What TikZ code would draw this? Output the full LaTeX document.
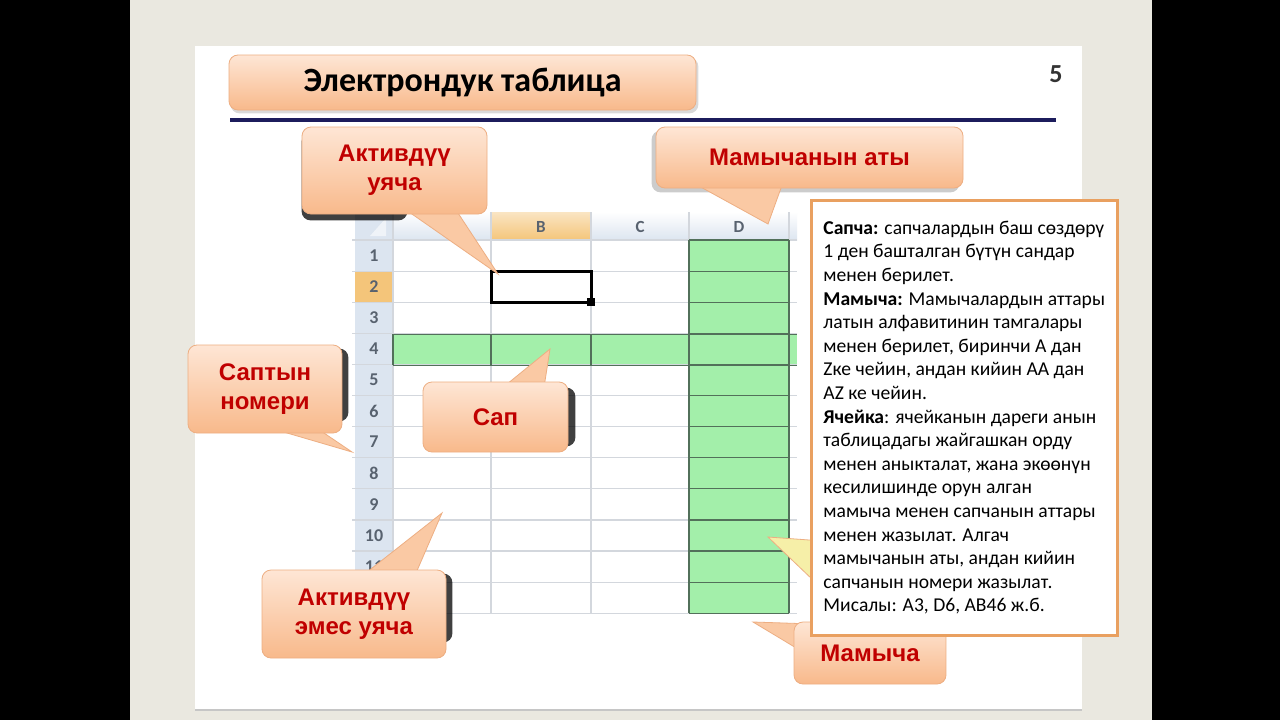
\documentclass[tikz,border=0pt]{standalone}
\usepackage{fontspec}
\setmainfont{Carlito}
\newfontfamily\lblfont{Liberation Sans}
\usetikzlibrary{calc, positioning}
\definecolor{slidegray}{HTML}{EAE8E0}
\definecolor{lblred}{HTML}{C00000}
\definecolor{peachtop}{HTML}{FEE6D5}
\definecolor{peachbot}{HTML}{F8B98B}
\definecolor{peachmid}{HTML}{FAC9A4}
\definecolor{peachline}{HTML}{EDAE82}
\definecolor{navyline}{HTML}{1C1C5C}
\definecolor{cellgreen}{HTML}{A3EFAA}
\definecolor{greenline}{HTML}{52705A}
\definecolor{gridgray}{HTML}{D3D7DD}
\definecolor{hdrblue}{HTML}{DCE5F0}
\definecolor{hdrorange}{HTML}{F4C57A}
\definecolor{hdrtext}{HTML}{58626F}
\definecolor{boxorange}{HTML}{E9A060}
\definecolor{tipyellow}{HTML}{F6EFA8}
\pgfdeclarelayer{back}
\pgfdeclarelayer{shd}
\pgfdeclarelayer{ptr}
\pgfsetlayers{back,shd,ptr,main}

\begin{document}
\begin{tikzpicture}[x=1pt, y=-1pt,
  callout/.style={rounded corners=9pt, top color=peachtop, bottom color=peachbot, draw=peachline,
    line width=0.8pt, align=center, text=lblred, font=\lblfont\bfseries\fontsize{24}{29}\selectfont},
  pointer/.style={fill=peachmid, draw=peachline, line width=0.8pt},
  darkshadow/.style={fill=black, opacity=0.75, rounded corners=9pt},
  rowlbl/.style={text=hdrtext, font=\bfseries\fontsize{18}{20}\selectfont},
  collbl/.style={text=hdrtext, font=\bfseries\fontsize{17}{20}\selectfont},
  infobox/.style={draw=boxorange, line width=2.5pt, fill=white, align=left, inner xsep=10pt,
    font=\fontsize{19.6}{23.6}\selectfont}]
\useasboundingbox (0,0) rectangle (1280,720);

\begin{pgfonlayer}{back}
% slide
\fill[black] (0,0) rectangle (1280,720);
\fill[slidegray] (130,0) rectangle (1152,720);
\fill[white] (195,46) rectangle (1082,710);
\draw[gray!45, line width=2pt] (195,710) -- (1082,710);
\draw[navyline, line width=4pt] (230,120) -- (1056,120);
% sheet headers
\shade[top color=white, bottom color=hdrblue] (393,212) rectangle (797,240);
\shade[top color=hdrorange!45, bottom color=hdrorange] (491,212) rectangle (591,240);
\fill[hdrblue] (355,212) rectangle (393,613.2);
\fill[white!55!hdrblue] (386,218) -- (386,236) -- (370,236) -- cycle;
\fill[hdrorange] (355,271.1) rectangle (393,302.2);
% green cells
\fill[cellgreen] (689,240) rectangle (789,613.2);
\fill[cellgreen] (393,334.3) rectangle (797,365.4);
% grid
\foreach \k in {0,...,12}
  \draw[gridgray, line width=1.2pt] (352,{240+31.1*\k}) -- (797,{240+31.1*\k});
\foreach \x in {393,491,591,689,789}
  \draw[gridgray, line width=1.2pt] (\x,212) -- (\x,613.2);
\foreach \k in {0,...,12}
  \draw[greenline, line width=1.2pt] (689,{240+31.1*\k}) -- (789,{240+31.1*\k});
\draw[greenline, line width=1.2pt] (689,240) -- (689,613.2) (789,240) -- (789,613.2);
\draw[greenline, line width=1.2pt] (393,334.3) -- (797,334.3) (393,365.4) -- (797,365.4);
\foreach \x in {393,491,591}
  \draw[greenline, line width=1.2pt] (\x,334.3) -- (\x,365.4);
% labels
\foreach \k in {1,...,11}
  \node[rowlbl] (r\k) at (374,{240+31.1*(\k-0.5)}) {\k};
\node[collbl] (hB) at (541,227) {B};
\node[collbl] (hC) at (640,227) {C};
\node[collbl] (hD) at (739,227) {D};
% active cell
\draw[line width=3pt] (491,271.1) rectangle (591,302.2);
\fill (587,298.2) rectangle (595,306.2);
\end{pgfonlayer}

% title
\node[callout, text=black, font=\bfseries\fontsize{34}{38}\selectfont, minimum width=467pt,
  minimum height=55pt] (title) at (462.5,82.5) {Электрондук таблица};
\node[font=\bfseries\fontsize{26}{28}\selectfont, text=black!80] (pnum) at (1056,74) {5};

% callouts
\node[callout, minimum width=185pt, minimum height=87pt] (act) at (394.5,170.5) {Активдүү\\уяча};
\node[callout, minimum width=307pt, minimum height=61pt] (name) at (809.5,157.5) {Мамычанын аты};
\node[callout, minimum width=154pt, minimum height=88pt] (row) at (265,389) {Саптын\\номери};
\node[callout, minimum width=145pt, minimum height=70pt] (sap) at (495.5,417) {Сап};
\node[callout, minimum width=184pt, minimum height=88pt] (inact) at (354,614) {Активдүү\\эмес уяча};
\node[callout, minimum width=152pt, minimum height=62pt] (col) at (870,653) {Мамыча};

\coordinate (tact) at (498,274);
\coordinate (tname) at (768,224);
\coordinate (trow) at (352,452);
\coordinate (tsap) at (550,349);
\coordinate (tinact) at (442,513);
\coordinate (tcol) at (753,622);
\coordinate (tcell) at (768,537);

\begin{pgfonlayer}{shd}
\fill[darkshadow] ($(act.north west)+(0,6)$) rectangle ($(act.south east)+(-80,6)$);
\fill[darkshadow, opacity=0.2] ($(name.north west)+(-4,4)$) rectangle ($(name.south east)+(-4,4)$);
\fill[darkshadow] ($(row.north west)+(6,4)$) rectangle ($(row.south east)+(6,-12)$);
\fill[darkshadow] ($(sap.north west)+(7,6)$) rectangle ($(sap.south east)+(7,-6)$);
\fill[darkshadow] ($(inact.north west)+(6,4)$) rectangle ($(inact.south east)+(6,-16)$);
\fill[darkshadow, opacity=0.15] ($(title.north west)+(2,3)$) rectangle ($(title.south east)+(2,3)$);
\end{pgfonlayer}

\begin{pgfonlayer}{ptr}
\filldraw[pointer] ($(act.south west)+(108,-2)$) -- (tact) -- ($(act.south west)+(156,-2)$) -- cycle;
\filldraw[pointer] ($(name.south west)+(44,-2)$) -- (tname) -- ($(name.south west)+(126,-2)$) -- cycle;
\filldraw[pointer] ($(row.south west)+(94,-2)$) -- (trow) -- ($(row.south west)+(134,-2)$) -- cycle;
\filldraw[pointer] ($(sap.north west)+(85,2)$) -- (tsap) -- ($(sap.north west)+(122,2)$) -- cycle;
\filldraw[pointer] ($(inact.north west)+(106,2)$) -- (tinact) -- ($(inact.north west)+(155,2)$) -- cycle;
\filldraw[pointer] ($(col.north west)+(8,2)$) -- (tcol) -- ($(col.north west)+(2,26)$) -- cycle;
\filldraw[pointer, fill=tipyellow] ($(col.north west)+(106,-75)$) -- (tcell)
  -- ($(col.north west)+(66,3)$) -- cycle;
\end{pgfonlayer}

% explanation box
\node[infobox, anchor=north west, minimum width=306pt, minimum height=435pt] (info) at (810,199) {%
\textbf{Сапча:} сапчалардын баш сөздөрү\\
1 ден башталган бүтүн сандар\\
менен берилет.\\
\textbf{Мамыча:} Мамычалардын аттары\\
латын алфавитинин тамгалары\\
менен берилет, биринчи A дан\\
Zке чейин, андан кийин AA дан\\
AZ ке чейин.\\
\textbf{Ячейка}: ячейканын дареги анын\\
таблицадагы жайгашкан орду\\
менен аныкталат, жана экөөнүн\\
кесилишинде орун алган\\
мамыча менен сапчанын аттары\\
менен жазылат. Алгач\\
мамычанын аты, андан кийин\\
сапчанын номери жазылат.\\
Мисалы: A3, D6, AB46 ж.б.};
\end{tikzpicture}
\end{document}
